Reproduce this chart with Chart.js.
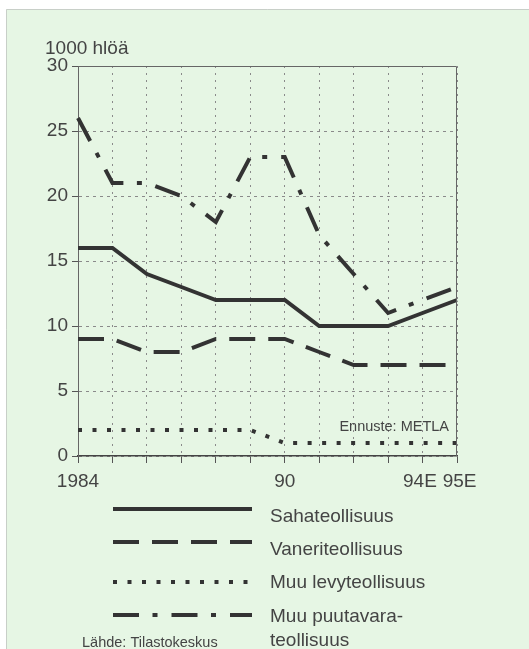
<!DOCTYPE html>
<html>
<head>
<meta charset="utf-8">
<script src="https://cdn.jsdelivr.net/npm/chart.js@4/dist/chart.umd.min.js"></script>
<style>
  html, body { margin: 0; padding: 0; background: #fff; }
  canvas { display: block; }
</style>
</head>
<body>
<canvas id="chart" width="529" height="649"></canvas>
<script>
// data (1000 persons)
const years = ['1984', '1985', '1986', '1987', '1988', '1989', '1990', '1991', '1992', '1993', '1994', '1995']
const yearLabels = ['1984', '', '', '', '', '', '90', '', '', '', '94E ', ' 95E']
const yTicks = [0, 5, 10, 15, 20, 25, 30]

const sahateollisuus = [16, 16, 14, 13, 12, 12, 12, 10, 10, 10, 11, 12]
const vaneriteollisuus = [9, 9, 8, 8, 9, 9, 9, 8, 7, 7, 7, 7]
const muuLevy = [2, 2, 2, 2, 2, 2, 1, 1, 1, 1, 1, 1]
const muuPuutavara = [26, 21, 21, 20, 18, 23, 23, 17, 14, 11, 12, 13]

const seriesNames = ['Sahateollisuus', 'Vaneriteollisuus', 'Muu levyteollisuus', ['Muu puutavara-', 'teollisuus']]

const ink = '#333'
const textColor = '#444'
const font = "'Liberation Sans', Arial, sans-serif"

const lineStyle = (data, dash) => ({
  data: data,
  borderColor: ink,
  borderWidth: 4,
  borderDash: dash,
  borderCapStyle: 'butt',
  borderJoinStyle: 'miter',
  pointRadius: 0,
  tension: 0,
  fill: false
})

const datasets = [
  { label: seriesNames[0], ...lineStyle(sahateollisuus, []) },
  { label: seriesNames[1], ...lineStyle(vaneriteollisuus, [26, 13]) },
  { label: seriesNames[2], ...lineStyle(muuLevy, [4, 10.5]) },
  { label: seriesNames[3], ...lineStyle(muuPuutavara, [26, 13.5, 5, 14]) }
]

// background panel, frame, notes and the legend underneath
const decorations = {
  id: 'decorations',
  beforeDraw(chart) {
    const ctx = chart.ctx
    ctx.save()
    ctx.fillStyle = '#fff'
    ctx.fillRect(0, 0, chart.width, chart.height)
    ctx.fillStyle = '#e6f6e4'
    ctx.fillRect(6, 9, chart.width - 6, chart.height - 9)
    ctx.strokeStyle = '#c8cfc8'
    ctx.lineWidth = 1
    ctx.beginPath()
    ctx.moveTo(6.5, chart.height)
    ctx.lineTo(6.5, 9.5)
    ctx.lineTo(chart.width, 9.5)
    ctx.stroke()
    ctx.restore()
  },
  afterDraw(chart) {
    const ctx = chart.ctx
    const area = chart.chartArea
    ctx.save()
    // top and right frame of the plot
    ctx.strokeStyle = '#666'
    ctx.lineWidth = 1
    ctx.beginPath()
    ctx.moveTo(area.left, area.top + 0.5)
    ctx.lineTo(area.right - 0.5, area.top + 0.5)
    ctx.lineTo(area.right - 0.5, area.bottom)
    ctx.stroke()

    ctx.fillStyle = textColor
    ctx.textBaseline = 'alphabetic'
    ctx.font = `19px ${font}`
    ctx.textAlign = 'left'
    ctx.fillText('1000 hlöä', 45, 54)

    ctx.font = `14.5px ${font}`
    ctx.textAlign = 'right'
    ctx.fillText('Ennuste: METLA', 449, 431)
    ctx.textAlign = 'left'
    ctx.fillText('Lähde: Tilastokeskus', 82, 647)

    // legend
    const lineY = [509, 542, 582, 615]
    const textY = [522, 555, 588, 622]
    chart.data.datasets.forEach((ds, i) => {
      ctx.strokeStyle = ds.borderColor
      ctx.lineWidth = ds.borderWidth
      ctx.lineCap = 'butt'
      ctx.setLineDash(ds.borderDash)
      ctx.beginPath()
      ctx.moveTo(113, lineY[i])
      ctx.lineTo(252, lineY[i])
      ctx.stroke()
      ctx.setLineDash([])
      ctx.font = `19px ${font}`
      ctx.fillStyle = textColor
      const label = Array.isArray(ds.label) ? ds.label : [ds.label]
      label.forEach((t, j) => ctx.fillText(t, 270, textY[i] + j * 24))
    })
    ctx.restore()
  }
}

new Chart(document.getElementById('chart'), {
  type: 'line',
  data: { labels: years, datasets: datasets },
  plugins: [decorations],
  options: {
    responsive: false,
    animation: false,
    layout: { padding: { left: 18, top: 66, right: 72, bottom: 153 } },
    plugins: {
      legend: { display: false },
      tooltip: { enabled: false }
    },
    scales: {
      x: {
        type: 'category',
        offset: false,
        afterFit: (scale) => { scale.height = 40 },
        grid: {
          color: '#8a8a8a',
          lineWidth: 1,
          tickLength: 7,
          tickColor: '#555',
          tickWidth: 1
        },
        border: { color: '#444', width: 1.5, dash: [2, 5] },
        ticks: {
          autoSkip: false,
          maxRotation: 0,
          padding: 7,
          color: textColor,
          font: { family: font, size: 19 },
          callback: (v, i) => yearLabels[i]
        }
      },
      y: {
        min: 0,
        max: 30,
        afterFit: (scale) => { scale.width = 60 },
        afterBuildTicks: (scale) => { scale.ticks = yTicks.map(v => ({ value: v })) },
        grid: {
          color: '#8a8a8a',
          lineWidth: 1,
          tickLength: 6,
          tickColor: '#555',
          tickWidth: 1
        },
        border: { color: '#666', width: 1, dash: [3, 4] },
        ticks: {
          padding: 4,
          color: textColor,
          font: { family: font, size: 19 }
        }
      }
    }
  }
})
</script>
</body>
</html>
